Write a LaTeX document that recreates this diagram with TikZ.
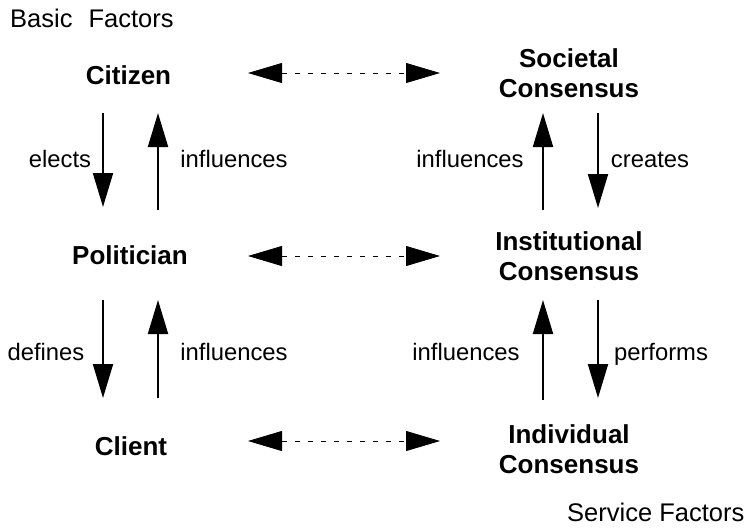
\documentclass[tikz,border=0pt]{standalone}
\usepackage{fontspec}
\setmainfont{Liberation Sans}
\usetikzlibrary{arrows.meta}
\begin{document}
\begin{tikzpicture}[x=1pt,y=-1pt,
  actor/.style={inner sep=0pt, font=\fontsize{26}{30}\selectfont\bfseries, align=center},
  lbl/.style={inner sep=0pt, anchor=base, font=\fontsize{23.8}{28}\selectfont},
  factor/.style={inner sep=0pt, anchor=base west, font=\fontsize{25.5}{30}\selectfont},
  flow/.style={line width=2pt, -{Triangle[length=34pt,width=20pt]}},
  link/.style={line width=0.8pt, dash pattern=on 5pt off 8pt,
    {Triangle[length=34pt,width=20pt]}-{Triangle[length=34pt,width=20pt]}}]
\useasboundingbox (0,0) rectangle (752,528);

% corner captions
\node[factor] (basic) at (10,27) {Basic\hspace{16pt}Factors};
\node[factor] (service) at (567,521) {Service Factors};

% left column
\node[actor, anchor=base] (cit) at (128.5,84) {Citizen};
\node[actor, anchor=base] (pol) at (130,264) {Politician};
\node[actor, anchor=base] (cli) at (131,455) {Client};

% right column
\node[actor] (soc) at (569,73) {Societal\\Consensus};
\node[actor] (ins) at (569,256) {Institutional\\Consensus};
\node[actor] (ind) at (569,449) {Individual\\Consensus};

% end points of the vertical flows
\coordinate (a1) at (103,113); \coordinate (a2) at (103,207);
\coordinate (b1) at (158,210); \coordinate (b2) at (158,113);
\coordinate (c1) at (103,300); \coordinate (c2) at (103,398);
\coordinate (d1) at (158,398); \coordinate (d2) at (158,300);
\coordinate (e1) at (543,210); \coordinate (e2) at (543,113);
\coordinate (f1) at (598,113); \coordinate (f2) at (598,208);
\coordinate (g1) at (543,400); \coordinate (g2) at (543,300);
\coordinate (h1) at (598,300); \coordinate (h2) at (598,398);

\draw[flow] (a1) -- (a2);
\draw[flow] (b1) -- (b2);
\draw[flow] (c1) -- (c2);
\draw[flow] (d1) -- (d2);
\draw[flow] (e1) -- (e2);
\draw[flow] (f1) -- (f2);
\draw[flow] (g1) -- (g2);
\draw[flow] (h1) -- (h2);

% flow labels
\node[lbl] (l1) at (60,167) {elects};
\node[lbl] (l2) at (234,167) {influences};
\node[lbl] (l3) at (470,167) {influences};
\node[lbl] (l4) at (650,167) {creates};
\node[lbl] (l5) at (46,360) {defines};
\node[lbl] (l6) at (234,360) {influences};
\node[lbl] (l7) at (466,360) {influences};
\node[lbl] (l8) at (661,360) {performs};

% dashed correspondences between the columns
\coordinate (p1) at (248,73); \coordinate (q1) at (440,73);
\coordinate (p2) at (248,256); \coordinate (q2) at (440,256);
\coordinate (p3) at (248,441); \coordinate (q3) at (440,441);
\draw[link] (p1) -- (q1);
\draw[link] (p2) -- (q2);
\draw[link] (p3) -- (q3);
\end{tikzpicture}
\end{document}
